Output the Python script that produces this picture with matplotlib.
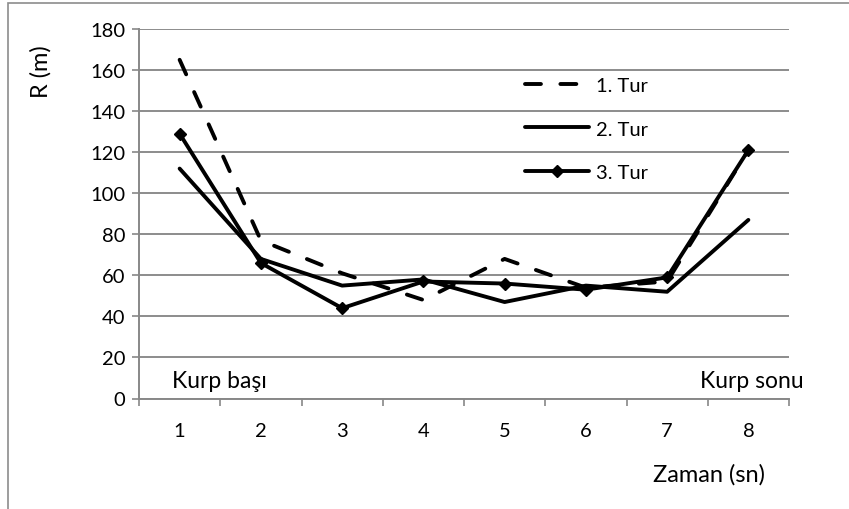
import matplotlib
matplotlib.use("Agg")
import matplotlib.pyplot as plt
from matplotlib.patches import Rectangle

plt.rcParams['font.family'] = ['Lato', 'DejaVu Sans']

x_labels = ["1", "2", "3", "4", "5", "6", "7", "8"]
tur1 = [165, 77, 61, 48, 68, 54, 57, 121]
tur2 = [112, 68, 55, 58, 47, 55, 52, 87]
tur3 = [129, 66, 44, 57, 56, 53, 59, 121]
series_names = ["1. Tur", "2. Tur", "3. Tur"]

fig = plt.figure(figsize=(8.49, 5.10), dpi=100)
W, H = 849, 510
ax = fig.add_axes([139 / W, 1 - 399.5 / H, (789 - 139) / W, (399.5 - 30) / H])

xs = list(range(1, len(x_labels) + 1))
lw = 2.8
ax.plot(xs, tur1, color='black', lw=lw, dashes=(4.1, 5.0), dash_capstyle='round', label=series_names[0])
ax.plot(xs, tur2, color='black', lw=lw, solid_capstyle='round', label=series_names[1])
ax.plot(xs, tur3, color='black', lw=lw, marker='D', markersize=6, solid_capstyle='round', label=series_names[2])

ax.set_xlim(0.5, 8.5)
ax.set_ylim(0, 180)
ax.set_yticks(range(0, 181, 20))
ax.set_xticks(xs)
ax.set_xticklabels(x_labels)
ax.set_xticks([i + 0.5 for i in range(0, 9)], minor=True)
ax.tick_params(axis='x', which='major', length=0, pad=17, labelsize=14.5)
ax.tick_params(axis='x', which='minor', length=5, color='#888888', width=1.2, direction='out')
ax.tick_params(axis='y', length=5, color='#888888', width=1.2, labelsize=14.5, pad=5)
ax.yaxis.grid(True, color='#8c8c8c', lw=1.4)
ax.set_axisbelow(True)
for s in ['top', 'right']:
    ax.spines[s].set_visible(False)
for s in ['left', 'bottom']:
    ax.spines[s].set_color('#888888')
    ax.spines[s].set_linewidth(1.4)

ax.text(0.91, 5.6, "Kurp başı", fontsize=16.5, ha='left', va='baseline')
fig.text(804 / W, 1 - 388 / H, "Kurp sonu", fontsize=16.5, ha='right', va='baseline')
fig.text(765 / W, 1 - 482 / H, "Zaman (sn)", fontsize=17, ha='right', va='baseline')
fig.text(41 / W, 1 - 72 / H, "R (m)", fontsize=17, ha='center', va='center', rotation=90)

leg = ax.legend(loc='upper left', bbox_to_anchor=(368 / 650, 1 - 30 / 369.5), frameon=False,
                fontsize=14.5, handlelength=3.15, labelspacing=1.3, handletextpad=0.35)

fig.patches.append(Rectangle((8 / W, -0.1), 1.2, 1.1 - 4 / H, transform=fig.transFigure,
                             fill=False, edgecolor='#8c8c8c', lw=1.2))

fig.savefig("out.png", dpi=100)
